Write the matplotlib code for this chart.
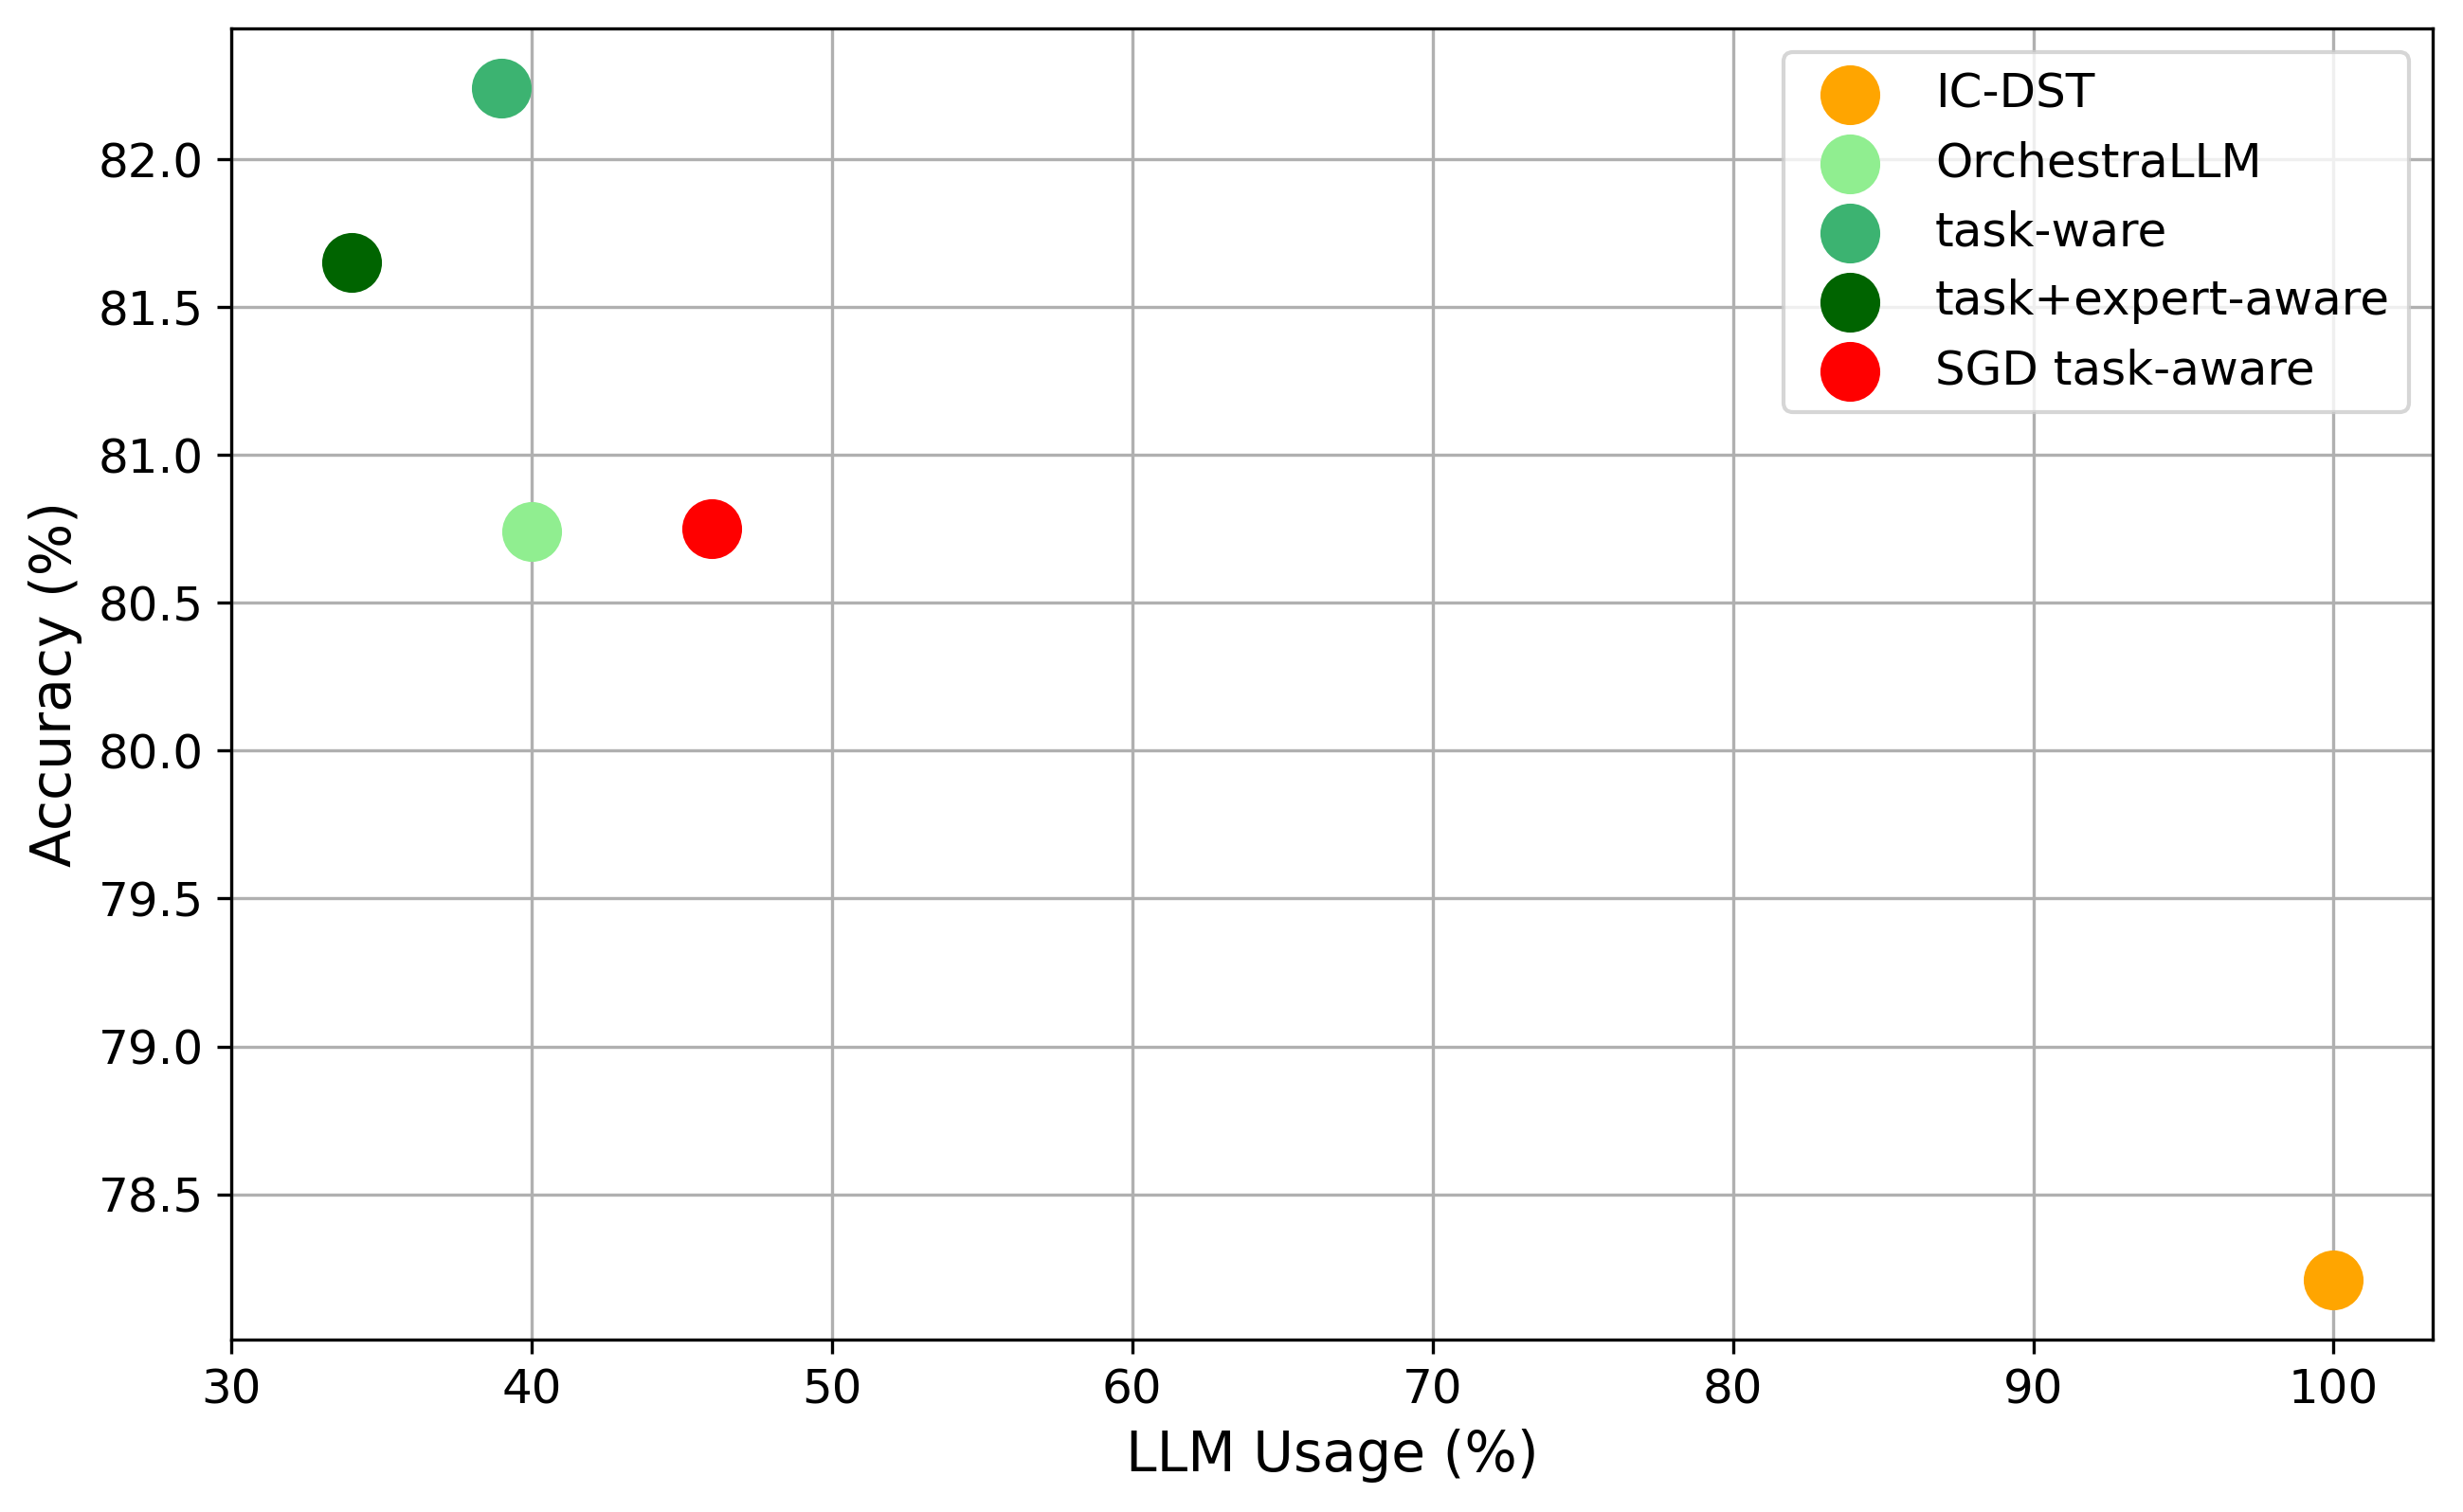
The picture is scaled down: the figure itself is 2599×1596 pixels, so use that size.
import matplotlib
matplotlib.use("Agg")
import matplotlib.pyplot as plt

methods = ["IC-DST", "OrchestraLLM", "task-ware", "task+expert-aware", "SGD task-aware"]
llm_usage = [100, 40, 39, 34, 46]
accuracy = [78.21, 80.74, 82.24, 81.65, 80.75]
colors = ["orange", "lightgreen", "mediumseagreen", "darkgreen", "red"]

fig = plt.figure(figsize=(2599/300, 1596/300), dpi=300)
ax = fig.add_axes([0.0939, 0.114, 0.8938, 0.867])
for m, x, y, c in zip(methods, llm_usage, accuracy, colors):
    ax.scatter(x, y, s=200, color=c, label=m, zorder=3)
ax.set_xlim(left=30)
ax.set_xlabel("LLM Usage (%)", fontsize=14)
ax.set_ylabel("Accuracy (%)", fontsize=14)
ax.tick_params(labelsize=12)
ax.grid(True)
ax.legend(fontsize=12, loc="upper right")
fig.savefig("out.png", dpi=300)
